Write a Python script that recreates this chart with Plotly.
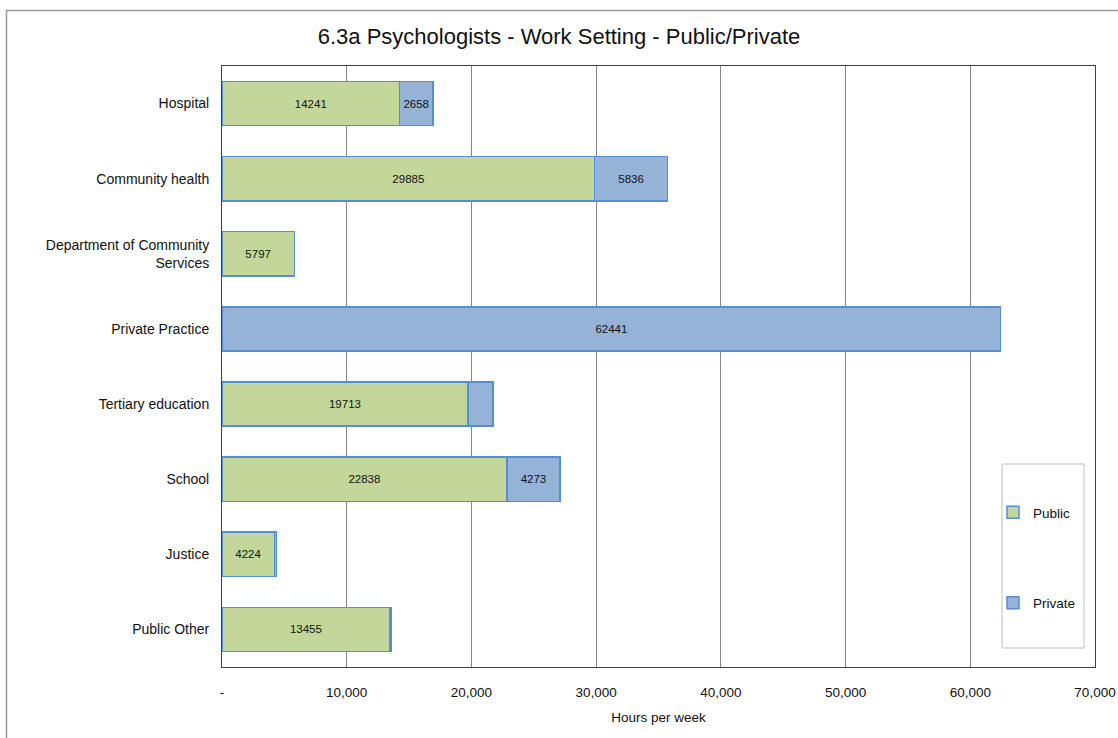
import plotly.graph_objects as go

categories = ["Hospital", "Community health", "Department of Community<br>Services",
              "Private Practice", "Tertiary education", "School", "Justice", "Public Other"]
public_vals = [14241, 29885, 5797, 0, 19713, 22838, 4224, 13455]
private_vals = [2658, 5836, 0, 62441, 2000, 4273, 150, 150]
public_text = ["14241", "29885", "5797", "", "19713", "22838", "4224", "13455"]
private_text = ["2658", "5836", "", "62441", "", "4273", "", ""]
tick_vals = [0, 10000, 20000, 30000, 40000, 50000, 60000, 70000]
tick_text = ["-", "10,000", "20,000", "30,000", "40,000", "50,000", "60,000", "70,000"]

FONT = "Liberation Sans, Arial, sans-serif"
edge = "rgb(85,142,213)"

fig = go.Figure()
fig.add_trace(go.Bar(
    y=categories, x=public_vals, orientation="h", name="Public",
    marker=dict(color="rgb(196,215,155)", line=dict(color=edge, width=1.5)),
    text=public_text, textposition="inside", insidetextanchor="middle",
    textangle=0, textfont=dict(size=11.5, color="#111", family=FONT),
    width=0.59, legendgroup="a", hoverinfo="skip",
))
fig.add_trace(go.Bar(
    y=categories, x=private_vals, orientation="h", name="Private",
    marker=dict(color="rgb(149,179,215)", line=dict(color=edge, width=1.5)),
    text=private_text, textposition="inside", insidetextanchor="middle",
    textangle=0, textfont=dict(size=11.5, color="#111", family=FONT),
    width=0.59, legendgroup="b", hoverinfo="skip",
))

fig.update_layout(
    width=1118, height=738,
    barmode="stack",
    paper_bgcolor="white", plot_bgcolor="white",
    margin=dict(l=222, r=23, t=66, b=71, autoexpand=False),
    font=dict(family=FONT, size=13, color="#111"),
    title=dict(text="6.3a Psychologists - Work Setting - Public/Private",
               x=0.5, xanchor="center", y=1 - 36 / 738, yanchor="middle",
               font=dict(size=22, family=FONT, color="#111")),
    xaxis=dict(range=[0, 70000], tickvals=tick_vals, ticktext=tick_text,
               showgrid=True, gridcolor="#868686", gridwidth=1, automargin=False,
               zeroline=False, showline=True, linecolor="#404040", mirror=True,
               ticks="", ticklabelstandoff=13, tickfont=dict(size=13.5),
               title=dict(text="Hours per week", font=dict(size=13.5), standoff=13)),
    yaxis=dict(autorange="reversed", showgrid=False, showline=True, automargin=False,
               linecolor="#404040", mirror=True, ticks="", ticklabelstandoff=9,
               tickfont=dict(size=14)),
    legend=dict(x=(993 - 222) / 873, y=(667 - 497) / 601, xanchor="left", yanchor="top",
                bgcolor="rgba(0,0,0,0)", borderwidth=0,
                tracegroupgap=70, traceorder="grouped",
                font=dict(size=13.5, family=FONT)),
    shapes=[
        dict(type="rect", xref="paper", yref="paper",
             x0=(1002 - 222) / 873, x1=(1084 - 222) / 873,
             y0=(667 - 648) / 601, y1=(667 - 464) / 601,
             line=dict(color="#bfbfbf", width=1), fillcolor="white", layer="below"),
        dict(type="rect", xref="paper", yref="paper",
             x0=(6.5 - 222) / 873, x1=(1130 - 222) / 873,
             y0=(667 - 760) / 601, y1=(667 - 10.5) / 601,
             line=dict(color="#9a9a9a", width=1.5), fillcolor="rgba(0,0,0,0)", layer="below"),
    ],
)

fig.write_html("out.html", config={"displayModeBar": False},
               post_script="document.body.style.margin='0px';")
